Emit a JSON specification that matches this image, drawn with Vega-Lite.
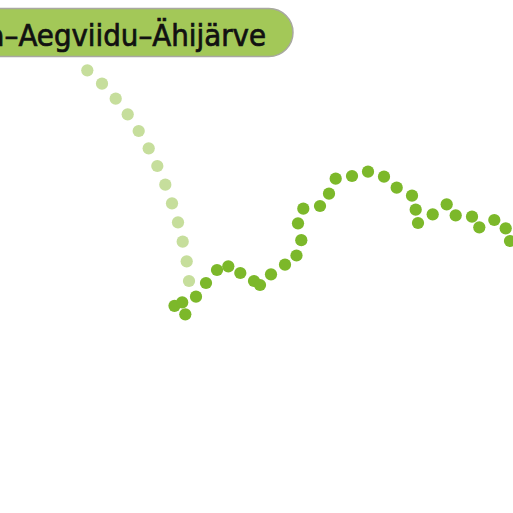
{
  "$schema": "https://vega.github.io/schema/vega-lite/v6.json",
  "autosize": {"type": "fit", "contains": "padding"},
  "width": 513,
  "height": 513,
  "padding": 0,
  "config": {"view": {"stroke": null}, "axis": {"disable": true}},
  "datasets": {
    "route": [
      {"x": 87.3, "y": 70.3, "part": "before"},
      {"x": 102, "y": 83.7, "part": "before"},
      {"x": 115.7, "y": 98.7, "part": "before"},
      {"x": 127.7, "y": 114.3, "part": "before"},
      {"x": 138.7, "y": 131, "part": "before"},
      {"x": 148.7, "y": 148.3, "part": "before"},
      {"x": 157.3, "y": 166, "part": "before"},
      {"x": 165.3, "y": 184.7, "part": "before"},
      {"x": 172, "y": 203.3, "part": "before"},
      {"x": 178, "y": 222.3, "part": "before"},
      {"x": 182.7, "y": 241.7, "part": "before"},
      {"x": 186.7, "y": 261.3, "part": "before"},
      {"x": 189, "y": 281, "part": "before"},
      {"x": 174.5, "y": 305.8, "part": "trail"},
      {"x": 182.2, "y": 302.4, "part": "trail"},
      {"x": 185.3, "y": 314.3, "part": "trail"},
      {"x": 196, "y": 296.7, "part": "trail"},
      {"x": 206, "y": 283, "part": "trail"},
      {"x": 217, "y": 270, "part": "trail"},
      {"x": 228.3, "y": 266.3, "part": "trail"},
      {"x": 240.3, "y": 273, "part": "trail"},
      {"x": 254, "y": 281, "part": "trail"},
      {"x": 260, "y": 285, "part": "trail"},
      {"x": 271, "y": 274.3, "part": "trail"},
      {"x": 285, "y": 264.7, "part": "trail"},
      {"x": 296.5, "y": 255.5, "part": "trail"},
      {"x": 301.3, "y": 240.2, "part": "trail"},
      {"x": 298, "y": 223.3, "part": "trail"},
      {"x": 303.3, "y": 208.7, "part": "trail"},
      {"x": 320, "y": 206, "part": "trail"},
      {"x": 329, "y": 193.7, "part": "trail"},
      {"x": 335.7, "y": 178.7, "part": "trail"},
      {"x": 352, "y": 176, "part": "trail"},
      {"x": 368, "y": 171.7, "part": "trail"},
      {"x": 384, "y": 176.7, "part": "trail"},
      {"x": 396.7, "y": 187.7, "part": "trail"},
      {"x": 412, "y": 195.7, "part": "trail"},
      {"x": 415.7, "y": 209.7, "part": "trail"},
      {"x": 418, "y": 223, "part": "trail"},
      {"x": 432.7, "y": 214.3, "part": "trail"},
      {"x": 446.7, "y": 204.3, "part": "trail"},
      {"x": 455.7, "y": 215.3, "part": "trail"},
      {"x": 472, "y": 216.7, "part": "trail"},
      {"x": 479.3, "y": 227.3, "part": "trail"},
      {"x": 494.3, "y": 220, "part": "trail"},
      {"x": 505.7, "y": 228.3, "part": "trail"},
      {"x": 510, "y": 241, "part": "trail"}
    ],
    "label": [
      {"x": -40, "x2": 293, "y": 8.5, "y2": 56.5, "tx": 266, "ty": 46, "name": "Peraküla–Aegviidu–Ähijärve"}
    ]
  },
  "layer": [
    {
      "data": {"name": "label"},
      "mark": {"type": "rect", "clip": true, "cornerRadius": 24, "fill": "#a3c858", "stroke": "#a8a8a0", "strokeWidth": 1.5},
      "encoding": {
        "x": {"field": "x", "type": "quantitative", "scale": {"domain": [0, 513]}},
        "x2": {"field": "x2"},
        "y": {"field": "y", "type": "quantitative", "scale": {"domain": [0, 513], "reverse": true}},
        "y2": {"field": "y2"}
      }
    },
    {
      "data": {"name": "label"},
      "mark": {"type": "text", "clip": true, "align": "right", "baseline": "alphabetic", "font": "DejaVu Sans Condensed, sans-serif", "fontSize": 30.8, "fill": "#111111", "stroke": "#111111", "strokeWidth": 0.7},
      "encoding": {
        "x": {"field": "tx", "type": "quantitative", "scale": {"domain": [0, 513]}},
        "y": {"field": "ty", "type": "quantitative", "scale": {"domain": [0, 513], "reverse": true}},
        "text": {"field": "name"}
      }
    },
    {
      "data": {"name": "route"},
      "mark": {"type": "circle", "clip": true, "size": 150, "opacity": 1},
      "encoding": {
        "x": {"field": "x", "type": "quantitative", "scale": {"domain": [0, 513]}},
        "y": {"field": "y", "type": "quantitative", "scale": {"domain": [0, 513], "reverse": true}},
        "color": {"field": "part", "type": "nominal", "legend": null, "scale": {"domain": ["before", "trail"], "range": ["#c6de9c", "#7cb82a"]}}
      }
    }
  ]
}
